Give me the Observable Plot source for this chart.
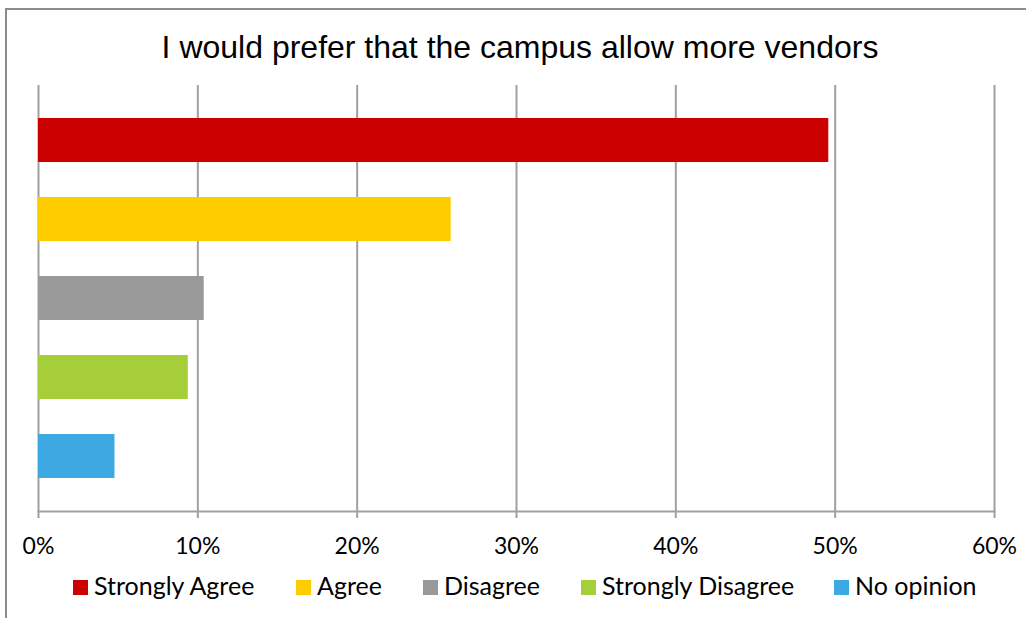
<!DOCTYPE html>
<html>
<head>
<meta charset="utf-8">
<script src="https://cdn.jsdelivr.net/npm/d3@7"></script>
<script src="https://cdn.jsdelivr.net/npm/@observablehq/plot@0.6"></script>
<style>
  html, body { margin: 0; padding: 0; background: #fff; }
  #wrap { position: relative; width: 1026px; height: 618px; overflow: hidden; }
  #border { position: absolute; left: 5px; top: 8px; width: 1040px; height: 640px; border-left: 2px solid #8c8c8c; border-top: 2px solid #8c8c8c; box-sizing: border-box; }
  #title { position: absolute; left: 0; width: 1040px; top: 29px; text-align: center; font-family: "Liberation Sans", Arial, sans-serif; font-size: 32px; color: #000; line-height: 36px; white-space: nowrap; }
  #chart { position: absolute; left: 0; top: 0; }
  #legend { position: absolute; top: 0; left: 0; width: 1026px; height: 618px; font-family: Lato, "Noto Sans", sans-serif; font-size: 25px; color: #000; }
  .sw { position: absolute; top: 580px; width: 15px; height: 15px; }
  .lt { position: absolute; top: 570px; line-height: 30px; white-space: nowrap; }
</style>
</head>
<body>
<div id="wrap">
  <div id="border"></div>
  <div id="chart"></div>
  <div id="title"></div>
  <div id="legend"></div>
</div>
<script>
const titleText = "I would prefer that the campus allow more vendors";
const categories = ["Strongly Agree", "Agree", "Disagree", "Strongly Disagree", "No opinion"];
const values = [0.496, 0.259, 0.104, 0.094, 0.048];
const colors = ["#cc0000", "#ffcc00", "#999999", "#a6ce39", "#3ca9e2"];
const xTicks = [0, 0.1, 0.2, 0.3, 0.4, 0.5, 0.6];
const legendX = [73, 296, 423, 581, 834];

const data = categories.map((c, i) => ({category: c, value: values[i]}));

document.getElementById("title").textContent = titleText;

const plot = Plot.plot({
  width: 1026,
  height: 618,
  marginLeft: 38,
  marginRight: 32,
  marginTop: 85,
  marginBottom: 107,
  style: {fontFamily: "Lato, 'Noto Sans', sans-serif", fontSize: "23px", color: "#000", background: "transparent"},
  x: {domain: [0, 0.6], ticks: xTicks, tickFormat: d3.format(".0%")},
  y: {domain: categories, paddingInner: 0.446, paddingOuter: 0.406, axis: null},
  color: {domain: categories, range: colors},
  marks: [
    Plot.ruleX(xTicks, {stroke: "#a0a0a0", strokeWidth: 2}),
    Plot.barX(data, {x: "value", y: "category", fill: "category"}),
    Plot.frame({anchor: "bottom", stroke: "#a0a0a0", strokeWidth: 2}),
    Plot.axisX({ticks: xTicks, tickFormat: d3.format(".0%"), tickSize: 7, tickPadding: 19, stroke: "#a0a0a0", strokeWidth: 2, strokeOpacity: 1, fill: "#000", fontSize: 23, label: null})
  ]
});
document.getElementById("chart").appendChild(plot);

const legend = document.getElementById("legend");
categories.forEach((c, i) => {
  const sw = document.createElement("div");
  sw.className = "sw";
  sw.style.left = legendX[i] + "px";
  sw.style.background = colors[i];
  const tx = document.createElement("span");
  tx.className = "lt";
  tx.style.left = (legendX[i] + 21) + "px";
  tx.textContent = c;
  legend.appendChild(sw);
  legend.appendChild(tx);
});
</script>
</body>
</html>
